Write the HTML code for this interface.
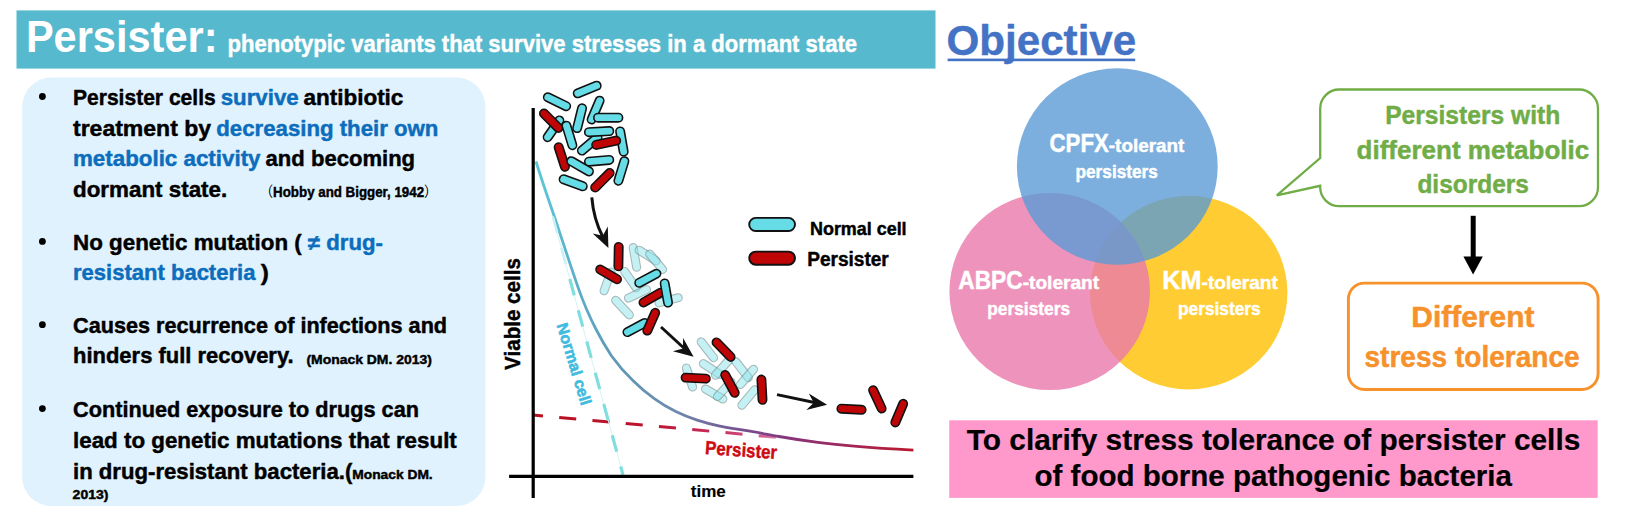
<!DOCTYPE html>
<html lang="en"><head><meta charset="utf-8"><title>Persister</title>
<style>html,body{margin:0;padding:0;background:#fff}body{width:1630px;height:513px;overflow:hidden}svg{display:block}text{font-family:"Liberation Sans","Noto Sans CJK JP",sans-serif;font-weight:bold;stroke-width:.45px;stroke-linejoin:round}</style></head><body>
<svg width="1630" height="513" viewBox="0 0 1630 513">
<defs>
<linearGradient id="cg" gradientUnits="userSpaceOnUse" x1="536" y1="0" x2="914" y2="0"><stop offset="0" stop-color="#5CC8D8"/><stop offset="0.08" stop-color="#5BB4CF"/><stop offset="0.2" stop-color="#5F9AB8"/><stop offset="0.37" stop-color="#6E8AAD"/><stop offset="0.45" stop-color="#726EA0"/><stop offset="0.55" stop-color="#764E90"/><stop offset="0.7" stop-color="#8C3074"/><stop offset="0.86" stop-color="#A62450"/><stop offset="1" stop-color="#BA182B"/></linearGradient>
<linearGradient id="rg" gradientUnits="userSpaceOnUse" x1="533" y1="0" x2="792" y2="0"><stop offset="0" stop-color="#B70F1E"/><stop offset="0.45" stop-color="#BC1430"/><stop offset="0.7" stop-color="#C62C5C"/><stop offset="0.88" stop-color="#D45A92"/><stop offset="1" stop-color="#EBA8CC"/></linearGradient>
</defs>
<rect x="16.5" y="10.4" width="919" height="58.2" fill="#57B9CE"/>
<text x="25.9" y="52.2" font-size="44" fill="#fff" stroke="#fff" textLength="191.6" lengthAdjust="spacingAndGlyphs" style="stroke-width:.0px">Persister:</text>
<text x="227.6" y="51.5" font-size="23.4" fill="#fff" stroke="#fff" textLength="629.4" lengthAdjust="spacingAndGlyphs">phenotypic variants that survive stresses in a dormant state</text>
<rect x="22.2" y="77.6" width="463.2" height="428.4" rx="29" ry="29" fill="#E0F2FD"/>
<circle cx="42.4" cy="96.5" r="3.4" fill="#000"/>
<text x="73.0" y="105.0" font-size="21.5" fill="#000" stroke="#000" textLength="142.7" lengthAdjust="spacingAndGlyphs">Persister cells</text>
<text x="220.7" y="105.0" font-size="21.5" fill="#0C6DBC" stroke="#0C6DBC" textLength="78.0" lengthAdjust="spacingAndGlyphs">survive</text>
<text x="303.4" y="105.0" font-size="21.5" fill="#000" stroke="#000" textLength="100.0" lengthAdjust="spacingAndGlyphs">antibiotic</text>
<text x="73.0" y="135.8" font-size="21.5" fill="#000" stroke="#000" textLength="138.1" lengthAdjust="spacingAndGlyphs">treatment by</text>
<text x="216.3" y="135.8" font-size="21.5" fill="#0C6DBC" stroke="#0C6DBC" textLength="222.1" lengthAdjust="spacingAndGlyphs">decreasing their own</text>
<text x="73.0" y="165.9" font-size="21.5" fill="#0C6DBC" stroke="#0C6DBC" textLength="187.5" lengthAdjust="spacingAndGlyphs">metabolic activity</text>
<text x="265.6" y="165.9" font-size="21.5" fill="#000" stroke="#000" textLength="149.5" lengthAdjust="spacingAndGlyphs">and becoming</text>
<text x="73.0" y="196.5" font-size="21.5" fill="#000" stroke="#000" textLength="154.2" lengthAdjust="spacingAndGlyphs">dormant state.</text>
<text x="259.8" y="197" font-size="14.3" fill="#000" stroke="#000" textLength="177.6" lengthAdjust="spacingAndGlyphs"><tspan style="font-weight:normal;stroke-width:0">（</tspan>Hobby and Bigger, 1942<tspan style="font-weight:normal;stroke-width:0">）</tspan></text>
<circle cx="42.4" cy="241.4" r="3.4" fill="#000"/>
<text x="73.0" y="249.9" font-size="21.5" fill="#000" stroke="#000" textLength="228.8" lengthAdjust="spacingAndGlyphs">No genetic mutation (</text>
<text x="307.9" y="249.9" font-size="21.5" fill="#0C6DBC" stroke="#0C6DBC" textLength="75.0" lengthAdjust="spacingAndGlyphs">≠ drug-</text>
<text x="73.0" y="279.7" font-size="21.5" fill="#0C6DBC" stroke="#0C6DBC" textLength="182.4" lengthAdjust="spacingAndGlyphs">resistant bacteria</text>
<text x="260.7" y="279.7" font-size="21.5" fill="#000" stroke="#000" textLength="8.1" lengthAdjust="spacingAndGlyphs">)</text>
<circle cx="42.4" cy="324.7" r="3.4" fill="#000"/>
<text x="73.0" y="333.2" font-size="21.5" fill="#000" stroke="#000" textLength="374.1" lengthAdjust="spacingAndGlyphs">Causes recurrence of infections and</text>
<text x="73.0" y="363.2" font-size="21.5" fill="#000" stroke="#000" textLength="220.6" lengthAdjust="spacingAndGlyphs">hinders full recovery.</text>
<text x="306.4" y="363.5" font-size="13.2" fill="#000" stroke="#000" textLength="125.4" lengthAdjust="spacingAndGlyphs">(Monack DM. 2013)</text>
<circle cx="42.4" cy="408.6" r="3.4" fill="#000"/>
<text x="73.0" y="417.1" font-size="21.5" fill="#000" stroke="#000" textLength="346.0" lengthAdjust="spacingAndGlyphs">Continued exposure to drugs can</text>
<text x="73.0" y="447.9" font-size="21.5" fill="#000" stroke="#000" textLength="383.8" lengthAdjust="spacingAndGlyphs">lead to genetic mutations that result</text>
<text x="73.0" y="478.5" font-size="21.5" fill="#000" stroke="#000" textLength="279.3" lengthAdjust="spacingAndGlyphs">in drug-resistant bacteria.(</text>
<text x="352.3" y="478.6" font-size="13.2" fill="#000" stroke="#000" textLength="80.4" lengthAdjust="spacingAndGlyphs">Monack DM.</text>
<text x="72.6" y="498.8" font-size="13.2" fill="#000" stroke="#000" textLength="35.8" lengthAdjust="spacingAndGlyphs">2013)</text>
<line x1="533" y1="415" x2="792" y2="438.7" stroke="url(#rg)" stroke-width="3" stroke-dasharray="17.1 16.3" stroke-dashoffset="7.1"/>
<path d="M536,161.5 C542,181 549,201 555,218.5 C563,242.5 570,264 577.7,286.4 C583,301.5 589,316 596.4,330 C601,339 606,347.5 611.4,355.7 C618,365 625,373 632.9,380.4 C639.5,387 646.5,393 654.3,398.6 C661,403.5 668,407.7 675.8,411.5 C682.5,414.8 689.5,417.6 697.2,420.1 C704,422.3 711,424.2 718.7,425.9 C729,428.1 739,429.6 750,431.2 C760,432.8 769,434.8 779,436.5 C791,438.6 804,440.6 817.9,442.4 C831,444.1 843,445.2 856.9,446.3 C875,447.8 894,449 913.4,450.1" fill="none" stroke="url(#cg)" stroke-width="2.8" stroke-linecap="butt"/>
<line x1="552.8" y1="216.5" x2="623.3" y2="476" stroke="#D3F3F5" stroke-width="1"/><line x1="569.8" y1="279" x2="623.0" y2="474.9" stroke="#80DEDF" stroke-width="3.2" stroke-dasharray="17 15.38"/><line x1="552.8" y1="216.5" x2="567.4" y2="270" stroke="#C9F0F3" stroke-width="2.6" stroke-dasharray="17 15.38"/>
<line x1="533.2" y1="108" x2="533.2" y2="497.9" stroke="#000" stroke-width="3.2"/>
<line x1="509.1" y1="476.3" x2="913.4" y2="476.3" stroke="#000" stroke-width="3.2"/>
<text transform="translate(520.1 369.9) rotate(-90)" font-size="22.6" fill="#000" stroke="#000" textLength="111.8" lengthAdjust="spacingAndGlyphs">Viable cells</text>
<text x="690.8" y="497.4" font-size="16.4" fill="#000" stroke="#000" textLength="35" lengthAdjust="spacingAndGlyphs" style="stroke-width:.15px">time</text>
<text transform="translate(556.5 325) rotate(73)" font-size="15.8" fill="#3FBBDF" stroke="#3FBBDF" textLength="85" lengthAdjust="spacingAndGlyphs" style="stroke-width:.6px">Normal cell</text>
<text transform="translate(704.8 454.1) rotate(3.9)" font-size="19" fill="#CE0A12" stroke="#CE0A12" textLength="72" lengthAdjust="spacingAndGlyphs">Persister</text>
<rect x="539.1" y="124.6" width="28.8" height="8.4" rx="4.2" transform="rotate(-55 553.5 128.8)" fill="#66DCE6" stroke="#111" stroke-width="1.6"/>
<rect x="536.8" y="116.5" width="28.8" height="8.4" rx="4.2" transform="rotate(45 551.2 120.7)" fill="#C00507" stroke="#111" stroke-width="1.6"/>
<rect x="542.6" y="97.5" width="28.8" height="8.4" rx="4.2" transform="rotate(26 557.0 101.7)" fill="#66DCE6" stroke="#111" stroke-width="1.6"/>
<rect x="572.8" y="85.3" width="28.8" height="8.4" rx="4.2" transform="rotate(-22 587.2 89.5)" fill="#66DCE6" stroke="#111" stroke-width="1.6"/>
<rect x="565.2" y="114.0" width="28.8" height="8.4" rx="4.2" transform="rotate(-76 579.6 118.2)" fill="#66DCE6" stroke="#111" stroke-width="1.6"/>
<rect x="581.2" y="105.9" width="28.8" height="8.4" rx="4.2" transform="rotate(-67 595.6 110.1)" fill="#66DCE6" stroke="#111" stroke-width="1.6"/>
<rect x="593.8" y="113.5" width="28.8" height="8.4" rx="4.2" transform="rotate(0 608.2 117.7)" fill="#66DCE6" stroke="#111" stroke-width="1.6"/>
<rect x="555.0" y="131.2" width="28.8" height="8.4" rx="4.2" transform="rotate(73 569.4 135.4)" fill="#66DCE6" stroke="#111" stroke-width="1.6"/>
<rect x="575.3" y="139.8" width="28.8" height="8.4" rx="4.2" transform="rotate(-40 589.7 144.0)" fill="#66DCE6" stroke="#111" stroke-width="1.6"/>
<rect x="584.7" y="127.4" width="28.8" height="8.4" rx="4.2" transform="rotate(-3 599.1 131.6)" fill="#66DCE6" stroke="#111" stroke-width="1.6"/>
<rect x="607.5" y="137.3" width="28.8" height="8.4" rx="4.2" transform="rotate(80 621.9 141.5)" fill="#66DCE6" stroke="#111" stroke-width="1.6"/>
<rect x="591.8" y="138.6" width="28.8" height="8.4" rx="4.2" transform="rotate(-12 606.2 142.8)" fill="#C00507" stroke="#111" stroke-width="1.6"/>
<rect x="547.4" y="152.8" width="28.8" height="8.4" rx="4.2" transform="rotate(72 561.8 157.0)" fill="#C00507" stroke="#111" stroke-width="1.6"/>
<rect x="584.7" y="156.6" width="28.8" height="8.4" rx="4.2" transform="rotate(-5 599.1 160.8)" fill="#66DCE6" stroke="#111" stroke-width="1.6"/>
<rect x="565.7" y="162.1" width="28.8" height="8.4" rx="4.2" transform="rotate(30 580.1 166.3)" fill="#66DCE6" stroke="#111" stroke-width="1.6"/>
<rect x="607.0" y="166.7" width="28.8" height="8.4" rx="4.2" transform="rotate(-73 621.4 170.9)" fill="#66DCE6" stroke="#111" stroke-width="1.6"/>
<rect x="588.0" y="176.1" width="28.8" height="8.4" rx="4.2" transform="rotate(-45 602.4 180.3)" fill="#C00507" stroke="#111" stroke-width="1.6"/>
<rect x="558.8" y="178.6" width="28.8" height="8.4" rx="4.2" transform="rotate(20 573.2 182.8)" fill="#66DCE6" stroke="#111" stroke-width="1.6"/>
<rect x="620.9" y="253.4" width="28" height="8" rx="4.0" transform="rotate(80 634.9 257.4)" fill="#8BE3EA" fill-opacity="0.5" stroke="#6d7c7e" stroke-opacity="0.5" stroke-width="1.1"/>
<rect x="633.6" y="251.5" width="28" height="8" rx="4.0" transform="rotate(32 647.6 255.5)" fill="#8BE3EA" fill-opacity="0.5" stroke="#6d7c7e" stroke-opacity="0.5" stroke-width="1.1"/>
<rect x="642.1" y="257.7" width="28" height="8" rx="4.0" transform="rotate(50 656.1 261.7)" fill="#8BE3EA" fill-opacity="0.5" stroke="#6d7c7e" stroke-opacity="0.5" stroke-width="1.1"/>
<rect x="593.5" y="277.4" width="28" height="8" rx="4.0" transform="rotate(-70 607.5 281.4)" fill="#8BE3EA" fill-opacity="0.5" stroke="#6d7c7e" stroke-opacity="0.5" stroke-width="1.1"/>
<rect x="616.4" y="275.7" width="28" height="8" rx="4.0" transform="rotate(55 630.4 279.7)" fill="#8BE3EA" fill-opacity="0.5" stroke="#6d7c7e" stroke-opacity="0.5" stroke-width="1.1"/>
<rect x="623.5" y="289.9" width="28" height="8" rx="4.0" transform="rotate(-25 637.5 293.9)" fill="#8BE3EA" fill-opacity="0.5" stroke="#6d7c7e" stroke-opacity="0.5" stroke-width="1.1"/>
<rect x="608.5" y="303.6" width="28" height="8" rx="4.0" transform="rotate(47 622.5 307.6)" fill="#8BE3EA" fill-opacity="0.5" stroke="#6d7c7e" stroke-opacity="0.5" stroke-width="1.1"/>
<rect x="654.6" y="296.3" width="28" height="8" rx="4.0" transform="rotate(-15 668.6 300.3)" fill="#8BE3EA" fill-opacity="0.5" stroke="#6d7c7e" stroke-opacity="0.5" stroke-width="1.1"/>
<rect x="604.7" y="252.5" width="27.8" height="8.3" rx="4.15" transform="rotate(91 618.6 256.6)" fill="#C00507" stroke="#111" stroke-width="1.6"/>
<rect x="594.7" y="270.2" width="27.8" height="8.3" rx="4.15" transform="rotate(30 608.6 274.4)" fill="#C00507" stroke="#111" stroke-width="1.6"/>
<rect x="633.9" y="274.1" width="27.8" height="8.3" rx="4.15" transform="rotate(-28 647.8 278.2)" fill="#66DCE6" stroke="#111" stroke-width="1.6"/>
<rect x="638.0" y="293.4" width="27.8" height="8.3" rx="4.15" transform="rotate(-30 651.9 297.5)" fill="#C00507" stroke="#111" stroke-width="1.6"/>
<rect x="652.5" y="288.9" width="27.8" height="8.3" rx="4.15" transform="rotate(80 666.4 293.0)" fill="#66DCE6" stroke="#111" stroke-width="1.6"/>
<rect x="622.1" y="323.4" width="27.8" height="8.3" rx="4.15" transform="rotate(-28 636.0 327.5)" fill="#66DCE6" stroke="#111" stroke-width="1.6"/>
<rect x="637.3" y="317.6" width="27.8" height="8.3" rx="4.15" transform="rotate(-66 651.2 321.7)" fill="#C00507" stroke="#111" stroke-width="1.6"/>
<rect x="693.4" y="345.8" width="28" height="8" rx="4.0" transform="rotate(52 707.4 349.8)" fill="#8BE3EA" fill-opacity="0.5" stroke="#6d7c7e" stroke-opacity="0.5" stroke-width="1.1"/>
<rect x="675.5" y="373.5" width="28" height="8" rx="4.0" transform="rotate(72 689.5 377.5)" fill="#8BE3EA" fill-opacity="0.5" stroke="#6d7c7e" stroke-opacity="0.5" stroke-width="1.1"/>
<rect x="697.7" y="365.1" width="28" height="8" rx="4.0" transform="rotate(33 711.7 369.1)" fill="#8BE3EA" fill-opacity="0.5" stroke="#6d7c7e" stroke-opacity="0.5" stroke-width="1.1"/>
<rect x="700.2" y="390.0" width="28" height="8" rx="4.0" transform="rotate(30 714.2 394.0)" fill="#8BE3EA" fill-opacity="0.5" stroke="#6d7c7e" stroke-opacity="0.5" stroke-width="1.1"/>
<rect x="708.2" y="363.7" width="28" height="8" rx="4.0" transform="rotate(-48 722.2 367.7)" fill="#8BE3EA" fill-opacity="0.5" stroke="#6d7c7e" stroke-opacity="0.5" stroke-width="1.1"/>
<rect x="710.2" y="385.2" width="28" height="8" rx="4.0" transform="rotate(-47 724.2 389.2)" fill="#8BE3EA" fill-opacity="0.5" stroke="#6d7c7e" stroke-opacity="0.5" stroke-width="1.1"/>
<rect x="728.1" y="365.7" width="28" height="8" rx="4.0" transform="rotate(52 742.1 369.7)" fill="#8BE3EA" fill-opacity="0.5" stroke="#6d7c7e" stroke-opacity="0.5" stroke-width="1.1"/>
<rect x="733.0" y="372.9" width="28" height="8" rx="4.0" transform="rotate(-49 747.0 376.9)" fill="#8BE3EA" fill-opacity="0.5" stroke="#6d7c7e" stroke-opacity="0.5" stroke-width="1.1"/>
<rect x="734.3" y="393.5" width="28" height="8" rx="4.0" transform="rotate(-50 748.3 397.5)" fill="#8BE3EA" fill-opacity="0.5" stroke="#6d7c7e" stroke-opacity="0.5" stroke-width="1.1"/>
<rect x="709.3" y="345.5" width="28.6" height="8.3" rx="4.15" transform="rotate(46 723.6 349.6)" fill="#C00507" stroke="#111" stroke-width="1.6"/>
<rect x="681.4" y="374.0" width="28.6" height="8.3" rx="4.15" transform="rotate(3 695.7 378.1)" fill="#C00507" stroke="#111" stroke-width="1.6"/>
<rect x="715.7" y="379.8" width="28.6" height="8.3" rx="4.15" transform="rotate(62 730.0 383.9)" fill="#C00507" stroke="#111" stroke-width="1.6"/>
<rect x="747.7" y="385.6" width="28.6" height="8.3" rx="4.15" transform="rotate(87 762.0 389.7)" fill="#C00507" stroke="#111" stroke-width="1.6"/>
<rect x="837.2" y="405.1" width="28.6" height="8.3" rx="4.15" transform="rotate(3 851.5 409.2)" fill="#C00507" stroke="#111" stroke-width="1.6"/>
<rect x="863.1" y="395.2" width="28.6" height="8.3" rx="4.15" transform="rotate(65 877.4 399.3)" fill="#C00507" stroke="#111" stroke-width="1.6"/>
<rect x="884.9" y="409.0" width="28.6" height="8.3" rx="4.15" transform="rotate(-67 899.2 413.1)" fill="#C00507" stroke="#111" stroke-width="1.6"/>
<path d="M591.8,197.4 Q593.6,219 602.6,236.5" fill="none" stroke="#111" stroke-width="3"/>
<path d="M608.4,248.0 L592.7,233.4 L602.8,235.7 L607.8,226.5 Z" fill="#111"/>
<line x1="661" y1="327" x2="686" y2="350" stroke="#111" stroke-width="3"/>
<path d="M693.6,356.8 L672.9,351.2 L683.0,348.5 L683.1,338.1 Z" fill="#111"/>
<line x1="777" y1="394.6" x2="818" y2="403.2" stroke="#111" stroke-width="3"/>
<path d="M827.1,404.7 L806.3,409.9 L813.8,402.7 L808.8,393.5 Z" fill="#111"/>
<rect x="749.2" y="217.9" width="45.8" height="13.1" rx="6.55" transform="rotate(0 772.1 224.5)" fill="#66DCE6" stroke="#111" stroke-width="1.9"/>
<rect x="749.2" y="251.6" width="45.8" height="13.1" rx="6.55" transform="rotate(0 772.1 258.2)" fill="#C00507" stroke="#111" stroke-width="1.9"/>
<text x="810" y="234.7" font-size="18.4" fill="#000" stroke="#000" textLength="96.6" lengthAdjust="spacingAndGlyphs">Normal cell</text>
<text x="807.2" y="265.5" font-size="19.6" fill="#000" stroke="#000" textLength="81.6" lengthAdjust="spacingAndGlyphs">Persister</text>
<text x="946.6" y="54.7" font-size="43" fill="#4472C4" stroke="#4472C4" textLength="189.6" lengthAdjust="spacingAndGlyphs">Objective</text>
<rect x="947.6" y="58.6" width="187.6" height="2.6" fill="#4472C4"/>
<ellipse cx="1188.7" cy="292.6" rx="98.7" ry="96.8" fill="#FFC000" fill-opacity="0.8"/>
<ellipse cx="1049.7" cy="291.5" rx="100.3" ry="98.6" fill="#EA79AB" fill-opacity="0.8"/>
<ellipse cx="1117.3" cy="166.5" rx="100.4" ry="98.2" fill="#5B9BD5" fill-opacity="0.8"/>
<text x="1049.5" y="151.7" font-size="25.5" fill="#fff" stroke="#fff" textLength="59.3" lengthAdjust="spacingAndGlyphs">CPFX</text>
<text x="1108.8" y="151.7" font-size="18.4" fill="#fff" stroke="#fff" textLength="75.6" lengthAdjust="spacingAndGlyphs">-tolerant</text>
<text x="1075.5" y="178.2" font-size="18.4" fill="#fff" stroke="#fff" textLength="82.4" lengthAdjust="spacingAndGlyphs">persisters</text>
<text x="958.3" y="288.7" font-size="25.5" fill="#fff" stroke="#fff" textLength="64.4" lengthAdjust="spacingAndGlyphs">ABPC</text>
<text x="1022.7" y="288.7" font-size="18.4" fill="#fff" stroke="#fff" textLength="76.5" lengthAdjust="spacingAndGlyphs">-tolerant</text>
<text x="987.3" y="314.7" font-size="18.4" fill="#fff" stroke="#fff" textLength="82.7" lengthAdjust="spacingAndGlyphs">persisters</text>
<text x="1162.3" y="288.7" font-size="25.5" fill="#fff" stroke="#fff" textLength="39.3" lengthAdjust="spacingAndGlyphs">KM</text>
<text x="1201.6" y="288.7" font-size="18.4" fill="#fff" stroke="#fff" textLength="76.2" lengthAdjust="spacingAndGlyphs">-tolerant</text>
<text x="1178" y="314.7" font-size="18.4" fill="#fff" stroke="#fff" textLength="82.7" lengthAdjust="spacingAndGlyphs">persisters</text>
<path d="M1339.2,89.5 H1579 A19,19 0 0 1 1598,108.5 V187.2 A19,19 0 0 1 1579,206.2 H1339.2 A19,19 0 0 1 1320.2,187.2 V185.8 L1276.8,195.4 L1320.2,158 V108.5 A19,19 0 0 1 1339.2,89.5 Z" fill="#fff" stroke="#70AD47" stroke-width="2.3" stroke-linejoin="miter"/>
<text x="1385.2" y="123.6" font-size="25.7" fill="#70AD47" stroke="#70AD47" textLength="175" lengthAdjust="spacingAndGlyphs">Persisters with</text>
<text x="1356.5" y="158.8" font-size="25.7" fill="#70AD47" stroke="#70AD47" textLength="232.8" lengthAdjust="spacingAndGlyphs">different metabolic</text>
<text x="1417.4" y="193" font-size="25.7" fill="#70AD47" stroke="#70AD47" textLength="111.5" lengthAdjust="spacingAndGlyphs">disorders</text>
<rect x="1470.7" y="215.8" width="5" height="42" fill="#000"/>
<path d="M1463.4,256.5 H1482.8 L1473.1,274.5 Z" fill="#000"/>
<rect x="1348.4" y="283.1" width="249.7" height="106.4" rx="16" ry="16" fill="#fff" stroke="#F6912B" stroke-width="2.9"/>
<text x="1411.3" y="327.3" font-size="28.6" fill="#F6912B" stroke="#F6912B" textLength="123.1" lengthAdjust="spacingAndGlyphs">Different</text>
<text x="1364.5" y="366.8" font-size="28.6" fill="#F6912B" stroke="#F6912B" textLength="215.2" lengthAdjust="spacingAndGlyphs">stress tolerance</text>
<rect x="949.2" y="420.3" width="648.5" height="77.6" fill="#FF99CC"/>
<text x="966.8" y="450.4" font-size="29.4" fill="#000" stroke="#000" textLength="613.5" lengthAdjust="spacingAndGlyphs" style="stroke-width:.2px">To clarify stress tolerance of persister cells</text>
<text x="1034.5" y="485.6" font-size="29.4" fill="#000" stroke="#000" textLength="477.5" lengthAdjust="spacingAndGlyphs" style="stroke-width:.2px">of food borne pathogenic bacteria</text>
</svg></body></html>
